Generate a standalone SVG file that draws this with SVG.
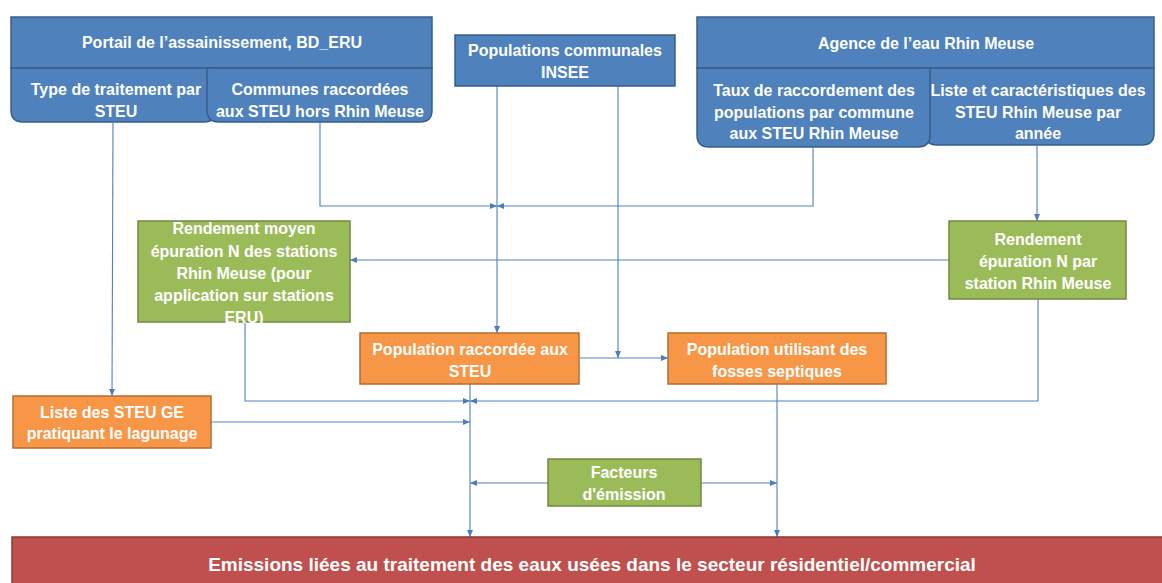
<svg xmlns="http://www.w3.org/2000/svg" width="1162" height="583" viewBox="0 0 1162 583">
<style>
text{font-family:"Liberation Sans",Arial,sans-serif;font-weight:bold;font-size:16px;fill:#fff;text-anchor:middle;dominant-baseline:central}
.blue{fill:#4f81bd;stroke:#385d8a;stroke-width:1.5}
.green{fill:#9bbb59;stroke:#71893f;stroke-width:1.5}
.orange{fill:#f79646;stroke:#b66d31;stroke-width:1.5}
.red{fill:#c0504d;stroke:#8c3836;stroke-width:1.5}
.c{fill:none;stroke:#4f81bd;stroke-width:1.1;marker-end:url(#ah)}
</style>
<defs>
<marker id="ah" markerUnits="userSpaceOnUse" markerWidth="7" markerHeight="6" refX="7" refY="3" orient="auto">
<path d="M0,0 L7,3 L0,6 z" fill="#4a7ebb"/>
</marker>
</defs>
<rect width="1162" height="583" fill="#fff"/>
<g id="connectors">
<path class="c" d="M113,123 L112,396"/>
<path class="c" d="M320,123 V206 H497"/>
<path class="c" d="M813,148 V206 H497"/>
<path class="c" d="M497,86 V333"/>
<path class="c" d="M618,86 V358"/>
<path class="c" d="M580,358 H668"/>
<path class="c" d="M949,260 H350"/>
<path class="c" d="M1037,146 V221"/>
<path class="c" d="M1038,299 V401 H470"/>
<path class="c" d="M245,322 V401 H470"/>
<path class="c" d="M470,384 V537"/>
<path class="c" d="M211,422 H470"/>
<path class="c" d="M777,384 V537"/>
<path class="c" d="M548,483 H470"/>
<path class="c" d="M701,483 H777"/>
</g>
<g id="portail">
<rect class="blue" x="11" y="17" width="421" height="51"/>
<text x="222" y="42">Portail de l’assainissement, BD_ERU</text>
</g>
<g id="type-traitement">
<path class="blue" d="M11,68 H216 V110 Q216,122 204,122 H23 Q11,122 11,110 Z"/>
<text x="116" y="89">Type de traitement par</text>
<text x="116" y="111">STEU</text>
</g>
<g id="communes-raccordees">
<path class="blue" d="M207,68 H432 V110 Q432,122 420,122 H219 Q207,122 207,110 Z"/>
<text x="320" y="89">Communes raccordées</text>
<text x="320" y="111">aux STEU hors Rhin Meuse</text>
</g>
<g id="populations-communales">
<rect class="blue" x="455" y="35" width="220" height="51"/>
<text x="565" y="50">Populations communales</text>
<text x="565" y="72">INSEE</text>
</g>
<g id="agence">
<rect class="blue" x="697" y="17" width="457" height="51"/>
<text x="926" y="43">Agence de l’eau Rhin Meuse</text>
</g>
<g id="liste-caracteristiques">
<path class="blue" d="M925,68 H1154 V133 Q1154,145 1142,145 H937 Q925,145 925,133 Z"/>
<text x="1038" y="90">Liste et caractéristiques des</text>
<text x="1038" y="112">STEU Rhin Meuse par</text>
<text x="1038" y="133">année</text>
</g>
<g id="taux-raccordement">
<path class="blue" d="M697,68 H930 V135 Q930,147 918,147 H709 Q697,147 697,135 Z"/>
<text x="814" y="90">Taux de raccordement des</text>
<text x="814" y="112">populations par commune</text>
<text x="814" y="133">aux STEU Rhin Meuse</text>
</g>
<g id="rendement-moyen">
<rect class="green" x="138" y="221" width="212" height="101"/>
<text x="244" y="228">Rendement moyen</text>
<text x="244" y="251">épuration N des stations</text>
<text x="244" y="273">Rhin Meuse (pour</text>
<text x="244" y="295">application sur stations</text>
<text x="244" y="317">ERU)</text>
</g>
<g id="rendement-station">
<rect class="green" x="949" y="221" width="177" height="78"/>
<text x="1038" y="239">Rendement</text>
<text x="1038" y="261">épuration N par</text>
<text x="1038" y="283">station Rhin Meuse</text>
</g>
<g id="population-raccordee">
<rect class="orange" x="360" y="333" width="219" height="51"/>
<text x="470" y="349">Population raccordée aux</text>
<text x="470" y="371">STEU</text>
</g>
<g id="population-fosses">
<rect class="orange" x="668" y="333" width="218" height="51"/>
<text x="777" y="349">Population utilisant des</text>
<text x="777" y="371">fosses septiques</text>
</g>
<g id="liste-lagunage">
<rect class="orange" x="13" y="396" width="198" height="52"/>
<text x="112" y="412">Liste des STEU GE</text>
<text x="112" y="433">pratiquant le lagunage</text>
</g>
<g id="facteurs">
<rect class="green" x="548" y="459" width="153" height="47"/>
<text x="624" y="472">Facteurs</text>
<text x="624" y="494">d'émission</text>
</g>
<g id="emissions">
<rect class="red" x="12" y="537" width="1152" height="50"/>
<text x="592" y="564" style="font-size:19px">Emissions liées au traitement des eaux usées dans le secteur résidentiel/commercial</text>
</g>
</svg>
